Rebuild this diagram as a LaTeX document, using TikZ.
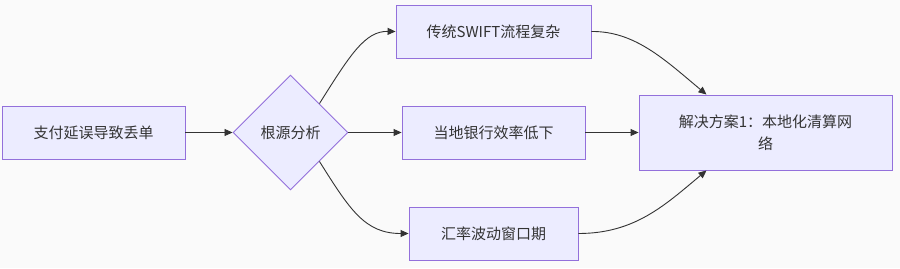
\documentclass[tikz,border=0pt]{standalone}
\usepackage{fontspec}
\setmainfont{Noto Sans CJK SC}
\usepackage{tikz}
\usetikzlibrary{shapes.geometric, arrows.meta, positioning}

\definecolor{nodefill}{HTML}{ECECFF}
\definecolor{nodeline}{HTML}{9370DB}
\definecolor{edgeline}{HTML}{333333}
\definecolor{bgcol}{HTML}{FAFAFA}

\begin{document}
\begin{tikzpicture}[
  x=1pt, y=-1pt,
  box/.style={rectangle, draw=nodeline, fill=nodefill, text=edgeline,
              font=\fontsize{15}{22}\selectfont, inner sep=0pt,
              minimum height=53pt, line width=0.9pt},
  decision/.style={diamond, draw=nodeline, fill=nodefill, text=edgeline,
              font=\fontsize{15}{22}\selectfont, inner sep=0pt,
              minimum width=115pt, minimum height=115pt, line width=0.9pt},
  arr/.style={-{Triangle[length=8pt, width=7pt]}, draw=edgeline, line width=0.9pt}
]
\fill[bgcol] (0,0) rectangle (900,268);
\useasboundingbox (0,0) rectangle (900,268);

\node[box, minimum width=183pt] (loss) at (93.5,132.5) {支付延误导致丢单};
\node[decision] (cause) at (290.5,132.5) {根源分析};
\node[box, minimum width=195pt] (swift) at (493.5,31.5) {传统SWIFT流程复杂};
\node[box, minimum width=183pt] (bank) at (493.5,132.5) {当地银行效率低下};
\node[box, minimum width=169pt] (fx) at (493.5,233.5) {汇率波动窗口期};
\node[box, minimum width=253pt, minimum height=75pt, align=center] (plan) at (765.5,132.5)
  {解决方案1：本地化清算网\\络};

\draw[arr] (loss) -- (cause);
\draw[arr] (cause.north east) .. controls (350,55) and (365,31) .. (swift.west);
\draw[arr] (cause) -- (bank);
\draw[arr] (cause.south east) .. controls (350,210) and (365,233.5) .. (fx.west);
\draw[arr] (swift.east) .. controls (635,31) and (665,60) .. ([xshift=-59pt]plan.north);
\draw[arr] (bank) -- (plan);
\draw[arr] (fx.east) .. controls (635,233.5) and (665,205) .. ([xshift=-59pt]plan.south);
\end{tikzpicture}
\end{document}
